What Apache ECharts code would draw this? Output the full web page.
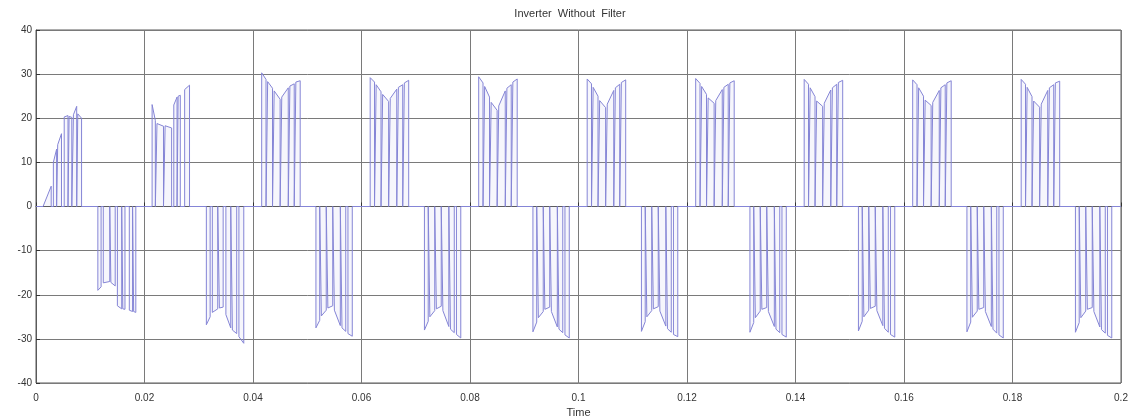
<!DOCTYPE html>
<html>
<head>
<meta charset="utf-8">
<script src="https://cdn.jsdelivr.net/npm/echarts@6/dist/echarts.min.js"></script>
<style>
html,body{margin:0;padding:0;background:#fff;}
#chart{width:1130px;height:420px;}
</style>
</head>
<body>
<div id="chart"></div>
<script>
// Pulses: [t_on (ms), t_off (ms), value at t_on, value at t_off]
const cycle01 = [
  [1.3, 2.8, 0.0, 4.6], [3.2, 3.8, 10.0, 13.0], [4.0, 4.7, 14.0, 16.5],
  [5.2, 5.9, 20.3, 20.6], [6.1, 6.6, 20.4, 20.2], [6.9, 7.5, 20.8, 22.7], [7.7, 8.4, 21.0, 20.0],
  [11.4, 12.0, -19.0, -18.2], [12.4, 13.6, -17.3, -17.0], [13.8, 14.6, -17.2, -18.0],
  [15.0, 15.8, -22.5, -23.2], [16.0, 16.4, -23.2, -23.3], [17.2, 17.8, -23.5, -23.8], [18.0, 18.4, -23.8, -24.0]
];
const cycle02 = [
  [21.4, 22.0, 23.1, 19.5], [22.3, 23.5, 18.8, 18.2], [23.8, 25.0, 18.3, 17.8],
  [25.4, 26.0, 23.0, 24.8], [26.2, 26.6, 25.0, 25.2], [27.4, 28.3, 26.5, 27.5],
  [31.4, 32.1, -26.8, -25.0], [32.5, 33.5, -24.0, -23.2], [33.8, 34.5, -23.0, -22.8],
  [35.0, 35.9, -24.5, -27.5], [36.2, 37.0, -28.0, -28.8], [37.4, 38.3, -29.5, -31.0]
];
const cycle03 = [
  [41.6, 42.4, 30.3, 28.8], [42.7, 43.6, 28.3, 26.8], [43.9, 45.0, 26.2, 24.3],
  [45.3, 46.5, 24.8, 26.9], [46.8, 47.6, 27.3, 27.8], [47.9, 48.7, 28.2, 28.5],
  [51.6, 52.3, -27.5, -25.8], [52.6, 53.5, -24.8, -23.5], [53.8, 54.7, -23.0, -22.5],
  [55.0, 56.1, -23.5, -27.0], [56.4, 57.1, -27.5, -28.3], [57.5, 58.3, -28.8, -29.4]
];
const cycle04 = [
  [61.6, 62.4, 29.2, 28.2], [62.7, 63.6, 27.6, 26.0], [63.9, 65.0, 25.4, 23.8],
  [65.3, 66.5, 24.5, 26.6], [66.8, 67.6, 27.0, 27.6], [67.9, 68.7, 28.0, 28.6],
  [71.6, 72.3, -28.0, -26.0], [72.6, 73.5, -25.0, -23.6], [73.8, 74.7, -23.2, -22.6],
  [75.0, 76.1, -23.6, -27.2], [76.4, 77.1, -27.8, -28.6], [77.5, 78.3, -29.0, -29.8]
];
const cycle05 = [
  [81.6, 82.4, 29.4, 28.0], [82.7, 83.6, 27.2, 24.8], [83.9, 85.0, 23.6, 21.8],
  [85.3, 86.5, 22.8, 26.2], [86.8, 87.6, 26.8, 27.6], [87.9, 88.7, 28.2, 28.9],
  [91.6, 92.3, -28.4, -26.2], [92.6, 93.5, -25.2, -23.8], [93.8, 94.7, -23.3, -22.8],
  [95.0, 96.1, -23.8, -27.3], [96.4, 97.1, -27.8, -28.6], [97.5, 98.3, -29.1, -29.8]
];
const cycle06 = [
  [101.6, 102.4, 28.9, 27.8], [102.7, 103.6, 27.0, 25.0], [103.9, 105.0, 24.0, 22.4],
  [105.3, 106.5, 23.2, 26.3], [106.8, 107.6, 26.9, 27.7], [107.9, 108.7, 28.1, 28.7],
  [111.6, 112.3, -28.3, -26.1], [112.6, 113.5, -25.0, -23.6], [113.8, 114.7, -23.2, -22.7],
  [115.0, 116.1, -23.7, -27.1], [116.4, 117.1, -27.7, -28.5], [117.5, 118.3, -29.0, -29.5]
];
const cycle07 = [
  [121.6, 122.4, 29.0, 27.9], [122.7, 123.6, 27.2, 25.4], [123.9, 125.0, 24.6, 23.4],
  [125.3, 126.5, 24.0, 26.5], [126.8, 127.6, 27.0, 27.7], [127.9, 128.7, 28.0, 28.5],
  [131.6, 132.3, -28.5, -26.3], [132.6, 133.5, -25.2, -23.7], [133.8, 134.7, -23.3, -22.9],
  [135.0, 136.1, -23.8, -27.2], [136.4, 137.1, -27.8, -28.6], [137.5, 138.3, -29.0, -29.6]
];
const cycle08 = [
  [141.6, 142.4, 28.8, 27.7], [142.7, 143.6, 26.9, 24.9], [143.9, 145.0, 23.9, 22.7],
  [145.3, 146.5, 23.4, 26.4], [146.8, 147.6, 26.9, 27.7], [147.9, 148.7, 28.1, 28.6],
  [151.6, 152.3, -28.2, -26.0], [152.6, 153.5, -25.0, -23.5], [153.8, 154.7, -23.1, -22.6],
  [155.0, 156.1, -23.6, -27.0], [156.4, 157.1, -27.6, -28.5], [157.5, 158.3, -29.0, -29.6]
];
const cycle09 = [
  [161.6, 162.4, 28.7, 27.6], [162.7, 163.6, 26.9, 25.0], [163.9, 165.0, 24.1, 22.9],
  [165.3, 166.5, 23.6, 26.3], [166.8, 167.6, 26.9, 27.6], [167.9, 168.7, 28.0, 28.5],
  [171.6, 172.3, -28.4, -26.2], [172.6, 173.5, -25.1, -23.7], [173.8, 174.7, -23.3, -22.9],
  [175.0, 176.1, -23.8, -27.2], [176.4, 177.1, -27.8, -28.7], [177.5, 178.3, -29.1, -29.8]
];
const cycle10 = [
  [181.6, 182.4, 28.8, 27.7], [182.7, 183.6, 27.0, 24.9], [183.9, 185.0, 23.9, 22.5],
  [185.3, 186.5, 23.2, 26.3], [186.8, 187.6, 26.9, 27.6], [187.9, 188.7, 28.0, 28.4],
  [191.6, 192.3, -28.5, -26.3], [192.6, 193.5, -25.2, -23.7], [193.8, 194.7, -23.3, -22.9],
  [195.0, 196.1, -23.8, -27.3], [196.4, 197.1, -27.9, -28.7], [197.5, 198.3, -29.2, -29.8]
];
const xTicks = [0, 0.02, 0.04, 0.06, 0.08, 0.1, 0.12, 0.14, 0.16, 0.18, 0.2];
const yTicks = [-40, -30, -20, -10, 0, 10, 20, 30, 40];

const allPulses = [].concat(cycle01, cycle02, cycle03, cycle04, cycle05,
  cycle06, cycle07, cycle08, cycle09, cycle10);
const wave = [[0, 0]];
allPulses.forEach(p => {
  const on = p[0] / 1000, off = p[1] / 1000;
  wave.push([on, 0], [on, p[2]], [off, p[3]], [off, 0]);
});
wave.push([0.2, 0]);

const chart = echarts.init(document.getElementById('chart'), null, {renderer: 'canvas'});
const labelFont = {fontFamily: 'Liberation Sans, Arial, sans-serif', fontSize: 10, color: '#333'};
chart.setOption({
  animation: false,
  backgroundColor: '#fff',
  title: {
    text: 'Inverter  Without  Filter', left: 565, top: 3, textAlign: 'center',
    textStyle: {fontFamily: 'Liberation Sans, Arial, sans-serif', fontSize: 11, fontWeight: 'normal', color: '#333'}
  },
  grid: {left: 36, right: 9, top: 30, bottom: 37, show: true, borderColor: '#5a5a5a', borderWidth: 1,
    outerBoundsMode: 'none', containLabel: false},
  xAxis: {
    type: 'value', min: 0, max: 0.2, interval: 0.02,
    name: 'Time', nameLocation: 'middle', nameGap: 24,
    nameTextStyle: {fontFamily: 'Liberation Sans, Arial, sans-serif', fontSize: 11, color: '#333'},
    axisLine: {show: true, lineStyle: {color: '#5a5a5a'}},
    axisTick: {show: true, inside: true, length: 4, lineStyle: {color: '#333'}},
    axisLabel: Object.assign({margin: 10, formatter: v => {
      const r = Math.round(v * 100) / 100;
      return xTicks.indexOf(r) >= 0 ? String(r) : '';
    }}, labelFont),
    splitLine: {show: true, lineStyle: {color: '#7a7a7a', width: 1}}
  },
  yAxis: {
    type: 'value', min: -40, max: 40, interval: 10,
    axisLine: {show: true, lineStyle: {color: '#5a5a5a'}},
    axisTick: {show: true, inside: true, length: 4, lineStyle: {color: '#333'}},
    axisLabel: Object.assign({margin: 4, formatter: v => yTicks.indexOf(v) >= 0 ? String(v) : ''}, labelFont),
    splitLine: {show: true, lineStyle: {color: '#7a7a7a', width: 1}}
  },
  series: [{
    type: 'line', data: wave, showSymbol: false, symbol: 'none',
    lineStyle: {color: '#8585d6', width: 1},
    areaStyle: {color: 'rgba(150,150,225,0.12)', origin: 0},
    z: 3
  }]
});
</script>
</body>
</html>
